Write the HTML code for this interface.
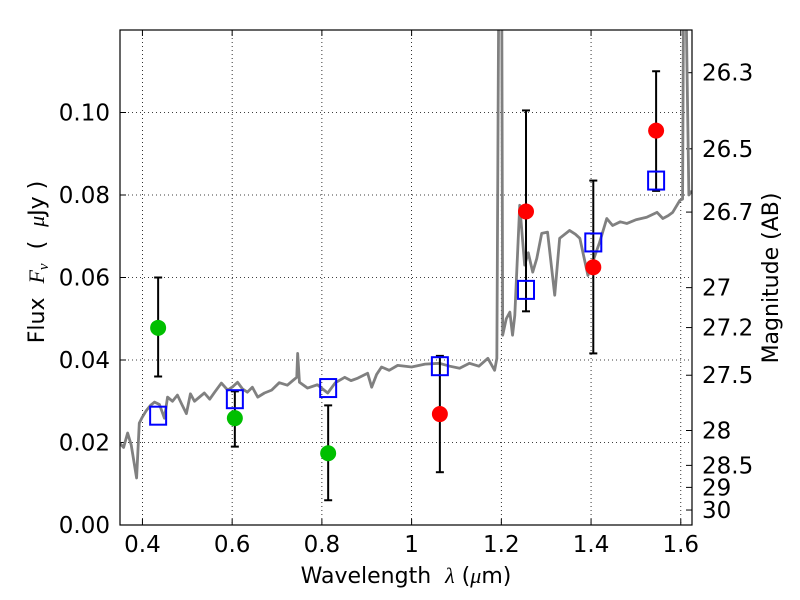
<!DOCTYPE html>
<html><head><meta charset="utf-8"><style>
body{margin:0;background:#fff}
svg{display:block;font-family:"DejaVu Sans","Liberation Sans",sans-serif}
text{white-space:pre}
</style></head><body>
<svg id="chart" width="800" height="600" xmlns="http://www.w3.org/2000/svg"></svg>
<script>
const xTicks=[0.4,0.6,0.8,1,1.2,1.4,1.6];
const xTickLabels=["0.4","0.6","0.8","1","1.2","1.4","1.6"];
const yTicks=[0,0.02,0.04,0.06,0.08,0.10];
const yTickLabels=["0.00","0.02","0.04","0.06","0.08","0.10"];
const magTicks=[26.3,26.5,26.7,27,27.2,27.5,28,28.5,29,30];
const magTickLabels=["26.3","26.5","26.7","27","27.2","27.5","28","28.5","29","30"];
const greenX=[0.435,0.606,0.814];
const greenY=[0.0478,0.0259,0.0174];
const greenLo=[0.036,0.019,0.006];
const greenHi=[0.060,0.0324,0.029];
const redX=[1.063,1.255,1.405,1.545];
const redY=[0.0269,0.076,0.0625,0.0956];
const redLo=[0.0128,0.0518,0.0416,0.081];
const redHi=[0.041,0.1005,0.0835,0.110];
const modelX=[0.435,0.606,0.814,1.063,1.255,1.405,1.545];
const modelY=[0.0265,0.0305,0.0332,0.0385,0.057,0.0685,0.0835];
const specX=[0.349,0.358,0.367,0.375,0.387,0.393,0.400,0.409,0.418,0.427,0.438,0.449,0.456,0.467,0.478,0.488,0.498,0.507,0.516,0.527,0.538,0.550,0.561,0.576,0.590,0.601,0.612,0.623,0.634,0.645,0.657,0.672,0.688,0.705,0.723,0.735,0.744,0.746,0.750,0.768,0.790,0.813,0.830,0.851,0.865,0.880,0.902,0.911,0.922,0.933,0.950,0.969,1.0,1.03,1.062,1.085,1.107,1.129,1.150,1.170,1.185,1.19,1.194,1.201,1.203,1.211,1.219,1.225,1.230,1.241,1.252,1.260,1.270,1.279,1.29,1.303,1.319,1.330,1.352,1.365,1.375,1.393,1.419,1.435,1.448,1.465,1.48,1.50,1.524,1.547,1.56,1.572,1.582,1.598,1.604,1.606,1.612,1.618,1.625];
const specY=[0.0199,0.0188,0.0223,0.0194,0.0114,0.0247,0.0262,0.0278,0.0290,0.0298,0.0292,0.0259,0.031,0.0300,0.0315,0.0292,0.027,0.0318,0.030,0.0310,0.032,0.0305,0.0322,0.0344,0.0327,0.0335,0.0346,0.0330,0.0322,0.0334,0.031,0.0320,0.0327,0.0345,0.0339,0.0350,0.0358,0.0416,0.0346,0.0332,0.0340,0.032,0.0345,0.0358,0.0350,0.0356,0.0368,0.0334,0.0365,0.0383,0.0375,0.0387,0.0383,0.0390,0.0392,0.0385,0.038,0.0392,0.0385,0.0404,0.0375,0.0404,0.125,0.125,0.046,0.050,0.0516,0.046,0.0508,0.0775,0.063,0.066,0.0613,0.0646,0.0707,0.071,0.0557,0.0695,0.0714,0.0705,0.0695,0.0605,0.0685,0.0743,0.0726,0.0735,0.0731,0.0740,0.0746,0.0758,0.0743,0.0750,0.0758,0.0787,0.079,0.125,0.125,0.08,0.081];

const L=120,R=692,T=30,B=525,xmin=0.35,xmax=1.625,ymin=0,ymax=0.12;
const X=v=>L+(v-xmin)/(xmax-xmin)*(R-L);
const Y=v=>B-(v-ymin)/(ymax-ymin)*(B-T);
const magToFlux=m=>Math.pow(10,(23.9-m)/2.5);
const svg=document.getElementById('chart');
const NS='http://www.w3.org/2000/svg';
function mk(tag,attrs,parent){const e=document.createElementNS(NS,tag);for(const k in attrs)e.setAttribute(k,attrs[k]);(parent||svg).appendChild(e);return e;}

const defs=mk('defs',{});const cp=mk('clipPath',{id:'clip'},defs);mk('rect',{x:L,y:T,width:R-L,height:B-T},cp);
const FS=23;
xTicks.forEach((t,i)=>{
  const g=mk('line',{x1:X(t),x2:X(t),y1:T,y2:B,stroke:'#000','stroke-width':0.8,'stroke-dasharray':'1,3'});
  
  
  const tk=mk('line',{x1:X(t),x2:X(t),y1:B,y2:B-6,stroke:'#000'});
  
  
  mk('line',{x1:X(t),x2:X(t),y1:T,y2:T+6,stroke:'#000'});
  const tx=mk('text',{x:X(t),y:B+27,'text-anchor':'middle','font-size':FS});tx.textContent=xTickLabels[i];
  
  
});
yTicks.forEach((t,i)=>{
  const g=mk('line',{x1:L,x2:R,y1:Y(t),y2:Y(t),stroke:'#000','stroke-width':0.8,'stroke-dasharray':'1,3'});
  
  
  mk('line',{x1:L,x2:L+6,y1:Y(t),y2:Y(t),stroke:'#000'});
  const tx=mk('text',{x:L-10,y:Y(t)+8,'text-anchor':'end','font-size':FS});tx.textContent=yTickLabels[i];
  
  
});
magTicks.forEach((m,i)=>{
  const y=Y(magToFlux(m));
  mk('line',{x1:R,x2:R-6,y1:y,y2:y,stroke:'#000'});
  const tx=mk('text',{x:R+10,y:y+8,'font-size':FS});tx.textContent=magTickLabels[i];
  
  
});

const sp=mk('polyline',{points:specX.map((v,i)=>X(v)+','+Y(specY[i])).join(' '),fill:'none',stroke:'#808080','stroke-width':2.8,'clip-path':'url(#clip)','stroke-linejoin':'round'});



function errbar(x,lo,hi){
  const g=mk('g',{stroke:'#000','stroke-width':2});
  
  
  mk('line',{x1:X(x),x2:X(x),y1:Y(lo),y2:Y(hi)},g);
  mk('line',{x1:X(x)-4,x2:X(x)+4,y1:Y(lo),y2:Y(lo)},g);
  mk('line',{x1:X(x)-4,x2:X(x)+4,y1:Y(hi),y2:Y(hi)},g);
}
greenX.forEach((x,i)=>errbar(x,greenLo[i],greenHi[i]));
redX.forEach((x,i)=>errbar(x,redLo[i],redHi[i]));
greenX.forEach((x,i)=>{const c=mk('circle',{cx:X(x),cy:Y(greenY[i]),r:8,fill:'#00bf00'});
  
  });
redX.forEach((x,i)=>{const c=mk('circle',{cx:X(x),cy:Y(redY[i]),r:8,fill:'#ff0000'});
  
  });
modelX.forEach((x,i)=>{const r=mk('rect',{x:X(x)-8,y:Y(modelY[i])-9,width:16,height:18,fill:'none',stroke:'#0000ff','stroke-width':2});
  
  });

const fr=mk('rect',{x:L,y:T,width:R-L,height:B-T,fill:'none',stroke:'#000','stroke-width':1.2});



const xl=mk('text',{x:406,y:583,'text-anchor':'middle','font-size':22});
xl.innerHTML='Wavelength  <tspan font-style="italic" font-family="Liberation Serif,serif">λ</tspan> (<tspan font-style="italic" font-family="Liberation Serif,serif">μ</tspan>m)';


const yl=mk('text',{x:0,y:0,'text-anchor':'middle','font-size':22,transform:'translate(44,262) rotate(-90)'});
yl.innerHTML='Flux  <tspan font-style="italic" font-family="Liberation Serif,serif">F<tspan font-size="15" dy="4">ν</tspan></tspan><tspan dy="-4">  (  </tspan><tspan font-style="italic" font-family="Liberation Serif,serif">μ</tspan>Jy )';


const ml=mk('text',{x:0,y:0,'text-anchor':'middle','font-size':22,transform:'translate(778,278) rotate(-90)'});
ml.textContent='Magnitude (AB)';


</script>
</body></html>
